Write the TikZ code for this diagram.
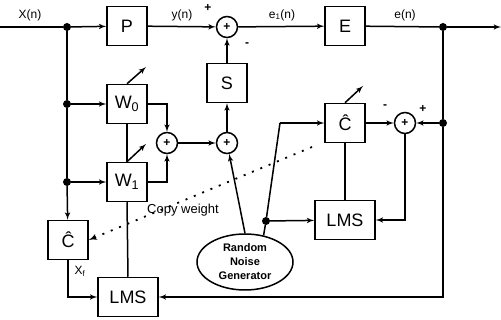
\documentclass[tikz,border=0pt]{standalone}
\usepackage{fontspec}
\setmainfont{Liberation Sans}
\usetikzlibrary{shapes.geometric, arrows, positioning}

\begin{document}
\begin{tikzpicture}[
        x=1pt, y=-1pt,
        node distance=60pt,
        block/.style={rectangle, draw, line width=1.5pt, minimum width=40pt, minimum height=39pt, inner sep=0pt, font=\fontsize{18}{20}\selectfont},
        wide/.style={block, minimum width=60pt},
        sum/.style={circle, draw, line width=1.5pt, minimum size=21pt, inner sep=0pt, font=\fontsize{12}{12}\selectfont\bfseries},
        junction/.style={circle, fill, minimum size=8pt, inner sep=0pt},
        cloud/.style={draw, ellipse, line width=1.5pt, minimum width=96pt, minimum height=56pt, inner sep=0pt, align=center, font=\fontsize{11}{14}\selectfont\bfseries},
        lbl/.style={font=\fontsize{12}{14}\selectfont},
        line/.style={draw, -latex', line width=1.5pt},
        wire/.style={draw, line width=1.5pt}
    ]
        \useasboundingbox (0,0) rectangle (501,320);

        % Primary path
        \coordinate (xin) at (0,27);
        \coordinate (xout) at (501,27);
        \node [junction] (jx) at (67,27) {};
        \node [block] (plant) at (127,26) {P};
        \node [sum] (sumy) at (227,27) {+};
        \node [block] (err) at (345,26) {E};
        \node [junction] (je) at (443,27) {};

        % Control filter
        \node [block, below of=sumy, node distance=56pt] (sec) {S};
        \node [sum, below of=sec] (sumu) {+};
        \node [sum, left of=sumu] (sumw) {+};
        \node [junction] (jw0) at (67,104) {};
        \node [junction] (jw1) at (67,182) {};
        \node [block] (w0) at (127,104) {W\textsubscript{0}};
        \node [block] (w1) at (127,182) {W\textsubscript{1}};
        \node [block] (chl) at (68,240) {\^{C}};
        \node [wide] (lmsl) at (128,297) {LMS};

        % Secondary path modelling
        \node [block] (chr) at (345,123) {\^{C}};
        \node [sum, right of=chr] (sume) {+};
        \node [junction] (jr) at (443,123) {};
        \node [wide, below of=chr, node distance=97pt] (lmsr) {LMS};
        \node [cloud] (noise) at (245,262) {Random\\Noise\\Generator};
        \node [junction] (jn) at (266,221) {};
        \coordinate (kink) at (280,123);
        \coordinate (copy) at (312,147);
        \coordinate (w0tip) at (146,67);
        \coordinate (w1tip) at (146,144);
        \coordinate (chtip) at (363,86);

        % Labels
        \node [lbl] at (30,15) {X(n)};
        \node [lbl] at (182,15) {y(n)};
        \node [lbl] at (282,15) {e\textsubscript{1}(n)};
        \node [lbl] at (405,15) {e(n)};
        \node [lbl] at (80,271) {X\textsubscript{f}};
        \node [lbl, font=\fontsize{13}{15}\selectfont] at (183,210) {Copy weight};
        \node [lbl, font=\fontsize{12}{12}\selectfont\bfseries] at (208,8) {+};
        \node [lbl, font=\fontsize{12}{12}\selectfont\bfseries] at (247,45) {-};
        \node [lbl, font=\fontsize{12}{12}\selectfont\bfseries] at (385,107) {-};
        \node [lbl, font=\fontsize{12}{12}\selectfont\bfseries] at (423,109) {+};

        % Edges
        \path [wire] (xin) -- (jx);
        \path [line] (jx) -- (plant);
        \path [line] (plant) -- (sumy);
        \path [line] (sumy) -- (err);
        \path [wire] (err) -- (je);
        \path [line] (je) -- (xout);

        \path [wire] (jx) -- (jw0) -- (jw1);
        \path [line] (jw1) -- (chl);
        \path [line] (jw0) -- (w0);
        \path [line] (jw1) -- (w1);
        \path [line] (w0.east) -| (sumw);
        \path [line] (w1.east) -| (sumw);
        \path [line] (sumw) -- (sumu);
        \path [line] (sumu) -- (sec);
        \path [line] (sec) -- (sumy);
        \path [line] (chl.south) |- (lmsl.west);
        \path [wire] (lmsl.north) -- (w1.south);
        \path [wire] (w1.north) -- (w0.south);
        \path [line] (w0.north) -- (w0tip);
        \path [line] (w1.north) -- (w1tip);

        \path [wire] (je) -- (jr);
        \path [line] (jr) -- (sume);
        \path [line] (jr) |- (lmsl.east);
        \path [line] (chr) -- (sume);
        \path [line] (sume.south) |- (lmsr.east);
        \path [wire] (lmsr.north) -- (chr.south);
        \path [line] (chr.north) -- (chtip);

        \path [line] (noise.north) -- (sumu);
        \path [wire] (noise.55) -- (jn);
        \path [wire] (jn) -- (kink);
        \path [line] (kink) -- (chr);
        \path [line] (jn) -- (lmsr);
        \path [line, dash pattern=on 2pt off 7pt, line width=1.8pt] (copy) -- (chl.east);
    \end{tikzpicture}
\end{document}
